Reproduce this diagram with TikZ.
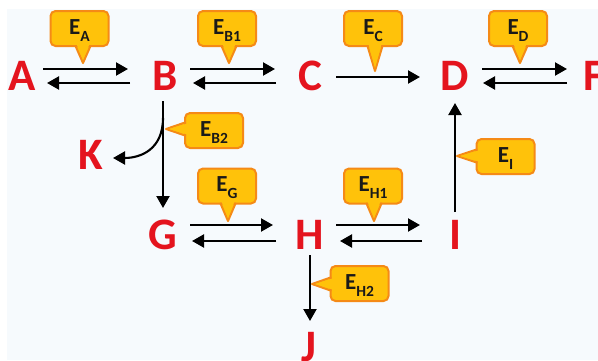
\documentclass[tikz,border=0pt]{standalone}
\usepackage{fontspec}
\setmainfont{Carlito}
\usetikzlibrary{calc,arrows.meta}
\definecolor{bgc}{RGB}{246,250,253}
\definecolor{letred}{RGB}{228,20,30}
\definecolor{gold}{RGB}{255,194,10}
\definecolor{orng}{RGB}{245,138,22}
\definecolor{txt}{RGB}{25,25,25}
\tikzset{
  letter/.style={anchor=base,inner sep=0pt,text=letred,font=\fontsize{45}{45}\selectfont\bfseries},
  bubble/.style={draw=orng,fill=gold,line width=2pt,rounded corners=5pt,minimum width=58pt,minimum height=35pt,inner sep=0pt},
  bubtext/.style={text=txt,font=\fontsize{23}{23}\selectfont\bfseries,inner sep=0pt},
  bubptr/.style={draw=orng,fill=gold,line width=2pt,line join=round},
  bubfill/.style={fill=gold},
  arr/.style={line width=2.1pt,-{Triangle[length=12pt,width=13pt]}},
}
\newcommand\Esb[1]{E\raisebox{-7pt}{\fontsize{15.5}{15.5}\selectfont #1}}
% name, cx, cy, tipx, tipy, label
\newcommand\bubdown[6]{%
  \node[bubble] (#1) at (#2,#3) {};
  \filldraw[bubptr] (#4-7.5,#3+17.5) -- (#4,#5) -- (#4+7.5,#3+17.5) -- cycle;
  \fill[bubfill] (#4-6.5,#3+15.5) -- (#4,#5-3) -- (#4+6.5,#3+15.5) -- cycle;
  \node[bubtext] at ($(#1.center)+(0,2)$) {#6};
}
\newcommand\bubleft[6]{%
  \node[bubble] (#1) at (#2,#3) {};
  \filldraw[bubptr] (#2-29,#5-6.5) -- (#4,#5) -- (#2-29,#5+6.5) -- cycle;
  \fill[bubfill] (#2-27,#5-5.5) -- (#4+3,#5) -- (#2-27,#5+5.5) -- cycle;
  \node[bubtext] at ($(#1.center)+(0,2)$) {#6};
}
\begin{document}
\begin{tikzpicture}[x=1pt,y=-1pt]
\useasboundingbox (0,0) rectangle (598,360);
\fill[white] (0,0) rectangle (598,360);
\fill[bgc] (7,9) rectangle (598,360);

% letters
\node[letter] (A) at (22,90) {A};
\node[letter] (B) at (165,90) {B};
\node[letter] (C) at (310,90) {C};
\node[letter] (D) at (455,90) {D};
\node[letter] (F) at (594,90) {F};
\node[letter] (K) at (91,169) {K};
\node[letter] (G) at (163,249) {G};
\node[letter] (H) at (310,249) {H};
\node[letter] (I) at (455,249) {I};
\node[letter] (J) at (309,361) {J};

% arrows top row
\draw[arr] ($(A.base)+(21,-21)$) -- ($(B.base)+(-37,-21)$);
\draw[arr] ($(B.base)+(-35,-7)$) -- ($(A.base)+(25,-7)$);
\draw[arr] ($(B.base)+(25,-21)$) -- ($(C.base)+(-35,-21)$);
\draw[arr] ($(C.base)+(-34,-7)$) -- ($(B.base)+(28,-7)$);
\draw[arr] ($(C.base)+(26,-13)$) -- ($(D.base)+(-35,-13)$);
\draw[arr] ($(D.base)+(27,-21)$) -- ($(F.base)+(-27,-21)$);
\draw[arr] ($(F.base)+(-27,-7)$) -- ($(D.base)+(28,-7)$);
% middle row
\draw[arr] ($(G.base)+(27,-24)$) -- ($(H.base)+(-37,-24)$);
\draw[arr] ($(H.base)+(-34,-8)$) -- ($(G.base)+(29,-8)$);
\draw[arr] ($(H.base)+(26,-24)$) -- ($(I.base)+(-35,-24)$);
\draw[arr] ($(I.base)+(-33,-8)$) -- ($(H.base)+(30,-8)$);
% verticals
\draw[arr] ($(B.base)+(-2,11)$) -- ($(G.base)+(0,-41)$);
\draw[arr] ($(B.base)+(-2,28)$) .. controls ($(B.base)+(-2,60)$) and ($(K.base)+(49,-11)$) .. ($(K.base)+(22,-11)$);
\draw[arr] ($(I.base)+(0,-37)$) -- ($(D.base)+(0,13)$);
\draw[arr] ($(H.base)+(0,6)$) -- ($(J.base)+(1,-40)$);

% callouts
\bubdown{eA}{79.5}{28.5}{83}{63}{\Esb{A}}
\bubdown{eB1}{227}{28.5}{229}{63}{\Esb{B1}}
\bubdown{eC}{373}{28.5}{375}{71}{\Esb{C}}
\bubdown{eD}{518}{28.5}{520}{63}{\Esb{D}}
\bubdown{eG}{227}{186}{228}{221}{\Esb{G}}
\bubdown{eH1}{373}{186}{374}{221}{\Esb{H1}}
\bubleft{eB2}{214}{130.5}{166}{129}{\Esb{B2}}
\bubleft{eI}{505.5}{156.5}{457}{156}{\Esb{I}}
\bubleft{eH2}{359.5}{283.5}{312}{284}{\Esb{H2}}
\end{tikzpicture}
\end{document}
